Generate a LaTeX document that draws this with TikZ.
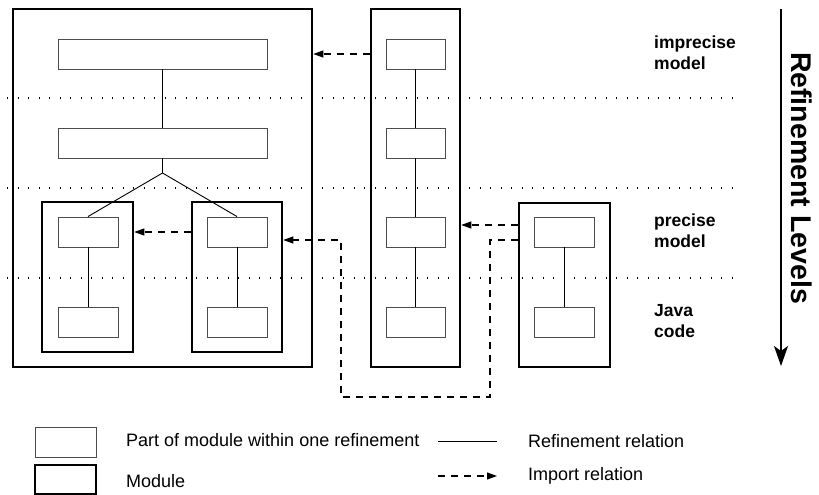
\documentclass[tikz,border=0pt]{standalone}
\usepackage{fontspec}
\setmainfont{Liberation Sans}
\usetikzlibrary{arrows.meta}
\begin{document}
\begin{tikzpicture}[x=1pt,y=-1pt,
  module/.style={draw=black, line width=2.6pt, inner sep=0pt},
  part/.style={draw=black!70, line width=0.9pt, fill=white, inner sep=0pt, minimum height=30pt},
  refine/.style={draw=black, line width=0.9pt},
  imp/.style={draw=black, line width=1.1pt, dash pattern=on 7pt off 6pt, -{Triangle[length=10pt,width=7pt]}},
  level/.style={draw=black, line width=1.4pt, dash pattern=on 1.4pt off 9.1pt},
  lvltext/.style={font=\bfseries\fontsize{17.5}{21}\selectfont, anchor=base west, inner sep=0pt},
  legtext/.style={font=\fontsize{18}{21}\selectfont, anchor=base west, inner sep=0pt},
  bigarrow/.style={draw=black, line width=1.4pt, -{Stealth[length=20pt,width=14pt,inset=5pt]}}
]
\useasboundingbox (0,0) rectangle (819,495);

% refinement level separators
\coordinate (d1l) at (7,98);  \coordinate (d1r) at (740,98);
\coordinate (d2l) at (7,188); \coordinate (d2r) at (740,188);
\coordinate (d3l) at (7,278); \coordinate (d3r) at (740,278);
\draw[level] (d1l) -- (d1r);
\draw[level] (d2l) -- (d2r);
\draw[level] (d3l) -- (d3r);

% module A with sub-modules B and C
\node[module, minimum width=299pt, minimum height=358pt] (A) at (162.5,188) {};
\node[part, minimum width=209pt] (A1) at (162.5,54) {};
\node[part, minimum width=209pt] (A2) at (162.5,143) {};
\node[module, minimum width=91pt, minimum height=150pt] (B) at (87.5,277) {};
\node[part, minimum width=60pt] (B1) at (88,232) {};
\node[part, minimum width=60pt] (B2) at (88,322) {};
\node[module, minimum width=90pt, minimum height=150pt] (C) at (237,277) {};
\node[part, minimum width=60pt] (C1) at (237,232) {};
\node[part, minimum width=60pt] (C2) at (237,322) {};
\coordinate (J) at (162.5,173);
\draw[refine] (A1.south) -- (A2.north);
\draw[refine] (A2.south) -- (J) -- (B1.north);
\draw[refine] (J) -- (C1.north);
\draw[refine] (B1.south) -- (B2.north);
\draw[refine] (C1.south) -- (C2.north);

% module D
\node[module, minimum width=89pt, minimum height=358pt] (D) at (415.5,188) {};
\node[part, minimum width=59pt] (D1) at (415.5,54) {};
\node[part, minimum width=59pt] (D2) at (415.5,143) {};
\node[part, minimum width=59pt] (D3) at (415.5,232) {};
\node[part, minimum width=59pt] (D4) at (415.5,322) {};
\draw[refine] (D1.south) -- (D2.north);
\draw[refine] (D2.south) -- (D3.north);
\draw[refine] (D3.south) -- (D4.north);

% module E
\node[module, minimum width=91pt, minimum height=164pt] (E) at (564.5,285) {};
\node[part, minimum width=60pt] (E1) at (564,232) {};
\node[part, minimum width=60pt] (E2) at (564,322) {};
\draw[refine] (E1.south) -- (E2.north);

% import relations
\draw[imp] (D1.west -| D.west) -- (D1.west -| A.east);
\draw[imp] (C1.west -| C.west) -- (C1.west -| B.east);
\draw[imp] ([yshift=7pt]E1.west -| E.west) -- ([yshift=7pt]E1.west -| D.east);
\coordinate (k1) at (490,397);
\coordinate (k2) at (341,397);
\draw[imp] ([yshift=-8pt]E1.west -| E.west) -| (k1) -- (k2) |- ([yshift=-8pt]C1.east -| C.east);

% level labels
\node[lvltext] (t1a) at (654,48.5) {imprecise};
\node[lvltext] (t1b) at (654,69.5) {model};
\node[lvltext] (t2a) at (654,226) {precise};
\node[lvltext] (t2b) at (654,247.5) {model};
\node[lvltext] (t3a) at (654,316) {Java};
\node[lvltext] (t3b) at (654,337) {code};

% refinement levels arrow
\coordinate (rt) at (781,9);
\coordinate (rb) at (781,366);
\draw[bigarrow] (rt) -- (rb);
\node[font=\bfseries\fontsize{28.5}{30}\selectfont, rotate=-90, inner sep=0pt] (rl) at (802,178) {Refinement Levels};

% legend
\node[part, minimum width=61pt] (L1) at (65.5,442) {};
\node[module, minimum width=61pt, minimum height=29pt] (L2) at (65.5,479.5) {};
\node[legtext] (lt1) at (126,446) {Part of module within one refinement};
\node[legtext] (lt2) at (126,487) {Module};
\coordinate (ls1) at (438,441); \coordinate (ls2) at (497,441);
\draw[refine] (ls1) -- (ls2);
\coordinate (ld1) at (438,476); \coordinate (ld2) at (497,476);
\draw[imp] (ld1) -- (ld2);
\node[legtext] (lt3) at (528,447) {Refinement relation};
\node[legtext] (lt4) at (528,480) {Import relation};
\end{tikzpicture}
\end{document}
